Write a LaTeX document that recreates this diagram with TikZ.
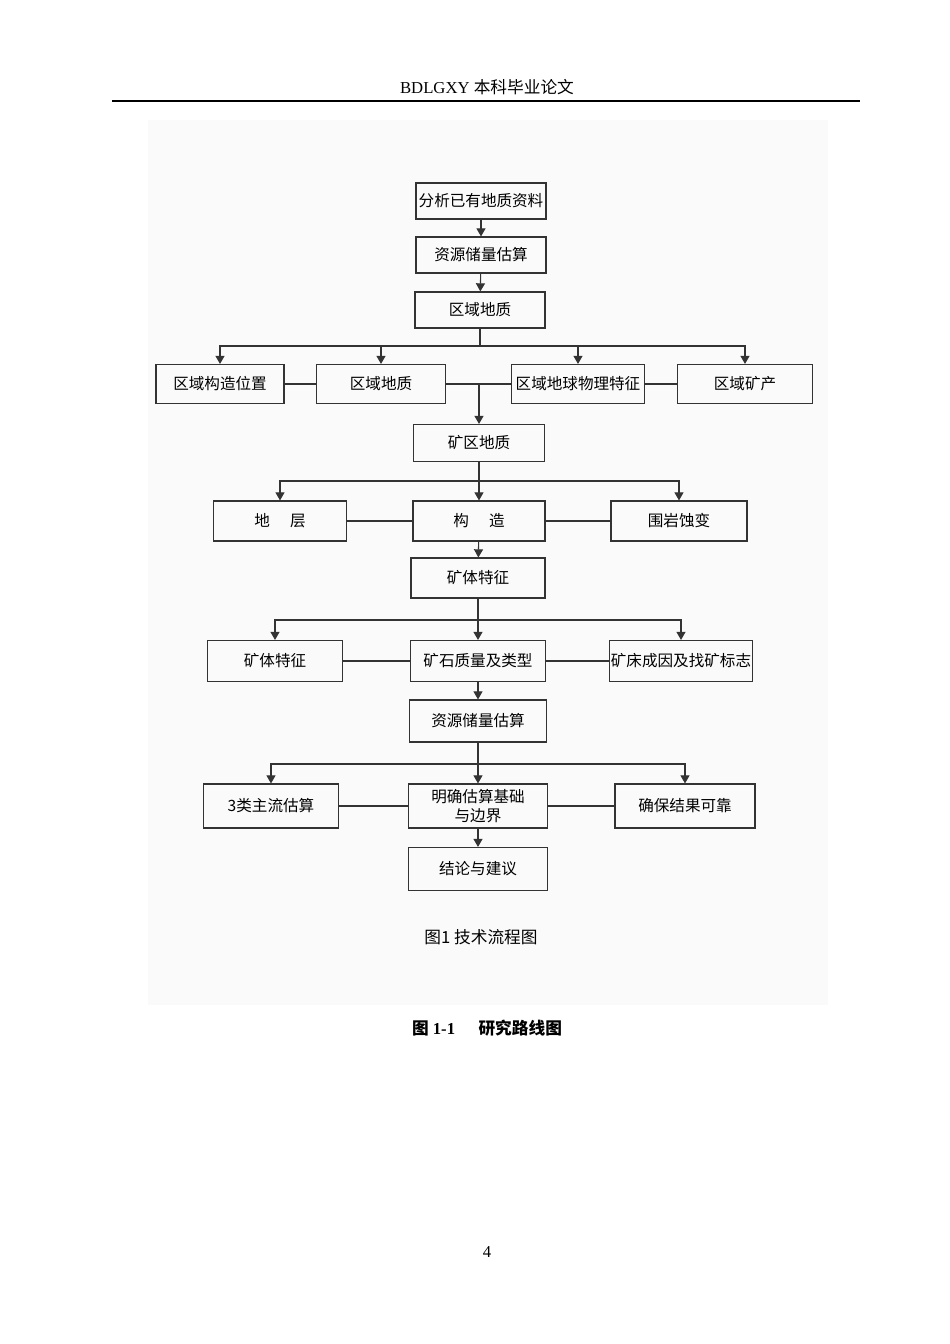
\documentclass[tikz,border=0pt]{standalone}
\usepackage{fontspec}
\setmainfont{Liberation Serif}
\newfontfamily\cjk{Noto Sans CJK SC}
\usetikzlibrary{arrows.meta}
\begin{document}
\begin{tikzpicture}[x=0.02211cm,y=-0.02211cm,
  box/.style={draw=black!80,line width=0.7pt,inner xsep=1pt,inner ysep=1pt,align=center,font=\cjk\fontsize{9.8}{12}\selectfont},
  wh/.style 2 args={minimum width=#1*0.02211cm,minimum height=#2*0.02211cm},
  link/.style={draw=black!80,line width=0.7pt},
  arr/.style={draw=black!80,line width=0.7pt,-{Triangle[length=1.8mm,width=2mm]}}]
\useasboundingbox (0,0) rectangle (950,1344);
\fill[black!2] (148,120) rectangle (828,1005);
\node[font=\fontsize{10.5}{12}\selectfont] (head) at (487,87) {BDLGXY {\cjk 本科毕业论文}};
\draw[line width=1.5pt] (112,101) -- (860,101);
\node[box,wh={130}{36}] (fx) at (481,201) {分析已有地质资料};
\node[box,wh={130}{36}] (zy1) at (481,255) {资源储量估算};
\node[box,wh={130}{36}] (qy) at (480,310) {区域地质};
\node[box,wh={128}{39}] (gz) at (220,384) {区域构造位置};
\node[box,wh={129}{39}] (dz) at (381,384) {区域地质};
\node[box,wh={133}{39}] (wl) at (578,384) {区域地球物理特征};
\node[box,wh={135}{39}] (kc) at (745,384) {区域矿产};
\node[box,wh={131}{37}] (kq) at (479,443) {矿区地质};
\node[box,wh={133}{40}] (dc) at (280,521) {地\hspace{1.3em}层};
\node[box,wh={132}{40}] (gou) at (479,521) {构\hspace{1.3em}造};
\node[box,wh={136}{40}] (wy) at (679,521) {围岩蚀变};
\node[box,wh={134}{40}] (kt) at (478,578) {矿体特征};
\node[box,wh={135}{41}] (kt2) at (275,661) {矿体特征};
\node[box,wh={135}{41}] (ks) at (478,661) {矿石质量及类型};
\node[box,wh={139}{41}] (kcy) at (681,661) {矿床成因及找矿标志};
\node[box,wh={137}{42}] (zy2) at (478,721) {资源储量估算};
\node[box,wh={135}{44}] (zl) at (271,806) {3类主流估算};
\node[box,wh={139}{44}] (mq) at (478,806) {明确估算基础\\与边界};
\node[box,wh={140}{44}] (qb) at (685,806) {确保结果可靠};
\node[box,wh={139}{43}] (jl) at (478,869) {结论与建议};
\node[font=\cjk\fontsize{10.5}{12}\selectfont] (cap1) at (481,937) {图1 技术流程图};
\node[font=\fontsize{10.5}{12}\selectfont\bfseries] (cap2) at (487,1028) {{\cjk 图} 1-1\hspace{1.4em}{\cjk 研究路线图}};
\node[font=\fontsize{10.5}{12}\selectfont] (pg) at (487,1252) {4};
\draw[arr] (fx) -- (zy1);
\draw[arr] (zy1) -- (qy);
\coordinate (j1) at (480,346);
\draw[link] (qy) -- (j1);
\draw[arr] (j1) -| (gz);
\draw[arr] (j1) -| (dz);
\draw[arr] (j1) -| (wl);
\draw[arr] (j1) -| (kc);
\draw[link] (gz) -- (dz);
\draw[link] (dz) -- (wl);
\draw[link] (wl) -- (kc);
\coordinate (j2) at (kq |- dz);
\draw[arr] (j2) -- (kq);
\coordinate (j3) at (479,481);
\draw[link] (kq) -- (j3);
\draw[arr] (j3) -| (dc);
\draw[arr] (j3) -- (gou);
\draw[arr] (j3) -| (wy);
\draw[link] (dc) -- (gou);
\draw[link] (gou) -- (wy);
\draw[arr] (gou) -- (kt);
\coordinate (j4) at (478,620);
\draw[link] (kt) -- (j4);
\draw[arr] (j4) -| (kt2);
\draw[arr] (j4) -- (ks);
\draw[arr] (j4) -| (kcy);
\draw[link] (kt2) -- (ks);
\draw[link] (ks) -- (kcy);
\draw[arr] (ks) -- (zy2);
\coordinate (j5) at (478,764);
\draw[link] (zy2) -- (j5);
\draw[arr] (j5) -| (zl);
\draw[arr] (j5) -- (mq);
\draw[arr] (j5) -| (qb);
\draw[link] (zl) -- (mq);
\draw[link] (mq) -- (qb);
\draw[arr] (mq) -- (jl);
\end{tikzpicture}
\end{document}
